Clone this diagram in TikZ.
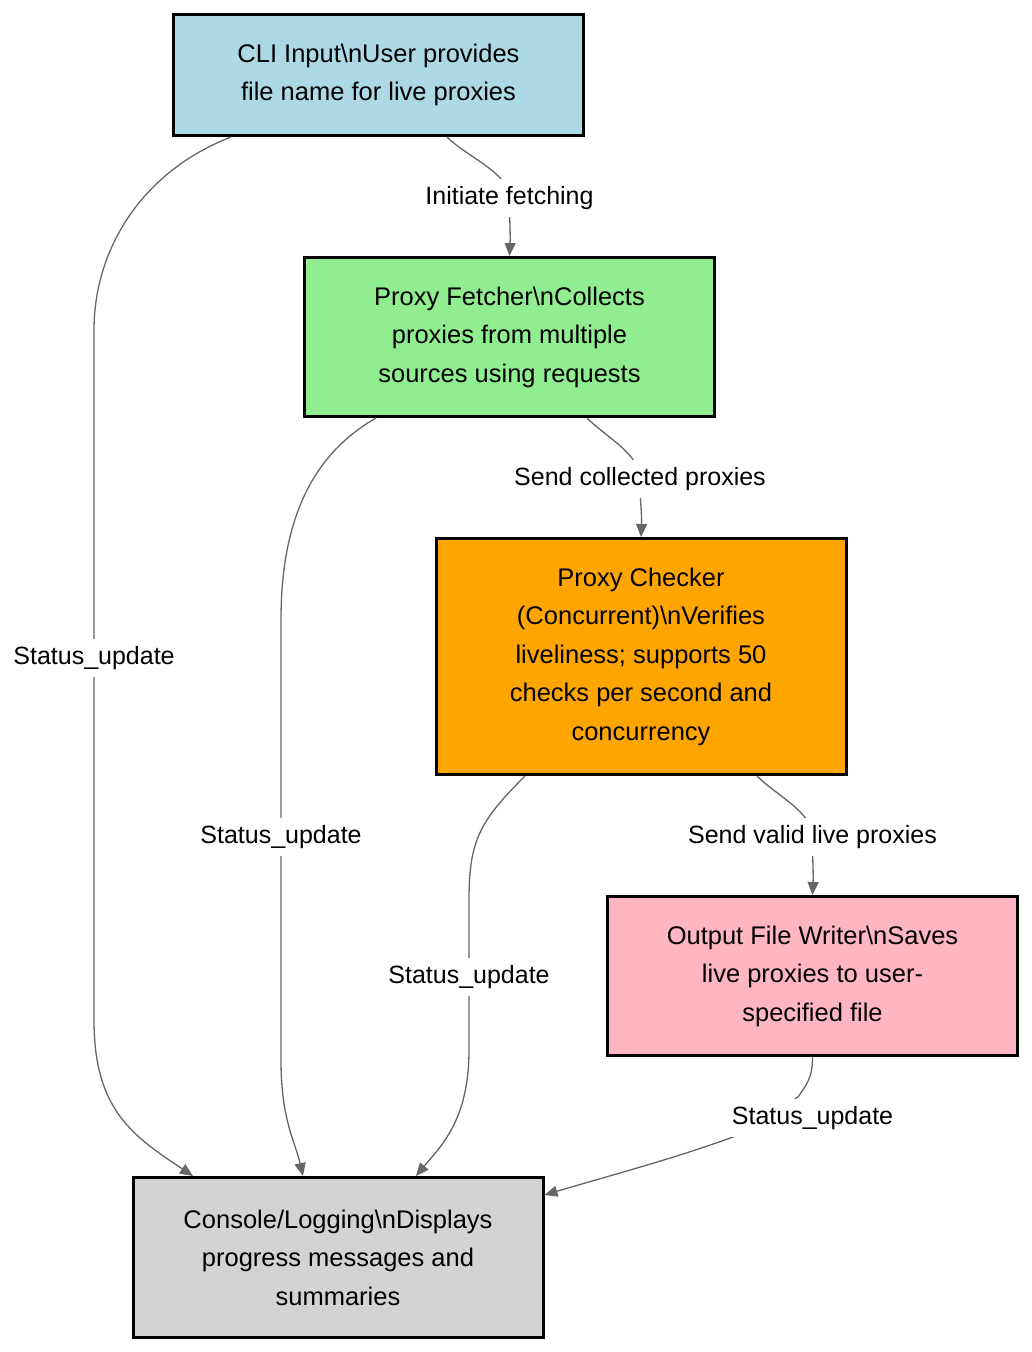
\documentclass[tikz,border=0pt]{standalone}
\usepackage{fontspec}
\setmainfont{Liberation Sans}
\usepackage{tikz}
\usetikzlibrary{arrows.meta,positioning}

\definecolor{cliblue}{HTML}{ADD8E6}
\definecolor{fetchgreen}{HTML}{90EE90}
\definecolor{checkorange}{HTML}{FFA500}
\definecolor{writerpink}{HTML}{FFB6C1}
\definecolor{consolegray}{HTML}{D3D3D3}
\definecolor{linkgray}{HTML}{666666}

\begin{document}
\begin{tikzpicture}[x=1pt,y=1pt,node distance=119pt,
  box/.style={draw=black,line width=3pt,align=center,minimum width=410pt,
    font=\fontsize{25.5}{38.5}\selectfont},
  lbl/.style={fill=white,inner xsep=3pt,inner ysep=7pt,text height=18pt,text depth=6pt,
    font=\fontsize{25}{30}\selectfont},
  link/.style={draw=linkgray,line width=1.3pt,-{Triangle[length=13pt,width=11pt]}}]

\useasboundingbox (0,0) rectangle (1032,-1352);

\node(cli)[box,fill=cliblue,minimum height=121pt] at (378.5,-75)
  {CLI Input\textbackslash nUser provides\\file name for live proxies};

\node(fetch)[box,fill=fetchgreen,minimum height=159pt,below = of cli,xshift=131pt]
  {Proxy Fetcher\textbackslash nCollects\\proxies from multiple\\sources using requests};

\node(check)[box,fill=checkorange,minimum height=236pt,below = of fetch,xshift=131.5pt]
  {Proxy Checker\\(Concurrent)\textbackslash nVerifies\\liveliness; supports 50\\checks per second and\\concurrency};

\node(writer)[box,fill=writerpink,minimum height=159pt,below = of check,xshift=171.5pt]
  {Output File Writer\textbackslash nSaves\\live proxies to user-\\specified file};

\node(console)[box,fill=consolegray,minimum height=160pt,below = of writer,xshift=-474.5pt]
  {Console/Logging\textbackslash nDisplays\\progress messages and\\summaries};

% label spots
\coordinate(l1) at (509.5,-198);
\coordinate(l2) at (94,-658);
\coordinate(l3) at (640,-479);
\coordinate(l4) at (281,-837);
\coordinate(l5) at (812.5,-837);
\coordinate(l6) at (469,-977);
\coordinate(l7) at (812.5,-1118);

\draw[link] ([xshift=68.5pt]cli.south) .. controls +(20,-20) and +(0,25) .. (l1)
  .. controls +(0,-22) and +(1,22) .. (fetch.north);

\draw[link] ([xshift=-147.5pt]cli.south) .. controls +(-90,-35) and +(0,80) .. (94,-330)
  -- (l2) -- (94,-1020) .. controls +(0,-90) and +(-60,40) .. ([xshift=-145pt]console.north);

\draw[link] ([xshift=77.5pt]fetch.south) .. controls +(20,-20) and +(0,25) .. (l3)
  .. controls +(0,-22) and +(1,22) .. (check.north);

\draw[link] ([xshift=-133.5pt]fetch.south) .. controls +(-70,-40) and +(0,90) .. (281,-620)
  -- (l4) -- (281,-1060) .. controls +(0,-60) and +(-8,35) .. ([xshift=-35pt]console.north);

\draw[link] ([xshift=116pt]check.south) .. controls +(20,-20) and +(0,25) .. (l5)
  .. controls +(0,-22) and +(1,22) .. (writer.north);

\draw[link] ([xshift=-116pt]check.south) .. controls +(-45,-45) and +(0,60) .. (469,-900)
  -- (l6) -- (469,-1050) .. controls +(0,-70) and +(25,30) .. ([xshift=78pt]console.north);

\draw[link] (writer.south) .. controls +(0,-22) and +(8,12) .. (798,-1097)
  -- (733,-1137) .. controls +(-60,-22) and +(60,18) .. ([yshift=-19pt]console.north east);

\node(t1)[lbl] at (l1) {Initiate fetching};
\node(t2)[lbl] at (l2) {Status\_update};
\node(t3)[lbl] at (l3) {Send collected proxies};
\node(t4)[lbl] at (l4) {Status\_update};
\node(t5)[lbl] at (l5) {Send valid live proxies};
\node(t6)[lbl] at (l6) {Status\_update};
\node(t7)[lbl] at (l7) {Status\_update};

\end{tikzpicture}
\end{document}
